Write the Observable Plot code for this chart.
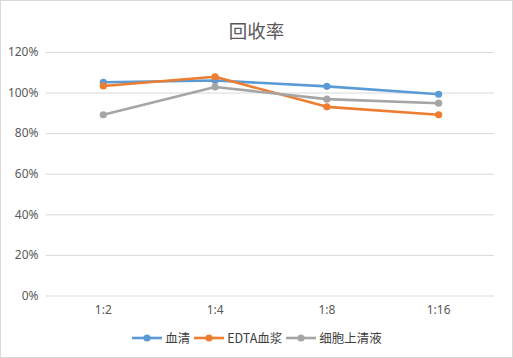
<!DOCTYPE html>
<html><head><meta charset="utf-8">
<script src="https://cdn.jsdelivr.net/npm/d3@7"></script>
<script src="https://cdn.jsdelivr.net/npm/@observablehq/plot@0.6"></script>
<style>
body{margin:0;background:#fff;font-family:"Noto Sans CJK SC","Noto Sans",sans-serif;}
#wrap{position:relative;width:513px;height:358px;box-sizing:border-box;border:1px solid #d9d9d9;overflow:hidden;}
#title{position:absolute;left:0;top:16px;width:511px;text-align:center;font-size:18.5px;color:#595959;line-height:26px;}
#chart{position:absolute;left:-1px;top:34px;}
#legend{position:absolute;left:0;top:327px;width:511px;display:flex;justify-content:center;gap:3px;font-size:12.5px;color:#404040;}
.item{display:flex;align-items:center;gap:2px;}
</style></head>
<body>
<div id="wrap">
<div id="title">回收率</div>
<div id="chart"></div>
<div id="legend"></div>
</div>
<script>
const categories = ["1:2","1:4","1:8","1:16"];
const seriesNames = ["血清","EDTA血浆","细胞上清液"];
const serum = [1.053, 1.062, 1.033, 0.994];
const edta = [1.035, 1.080, 0.932, 0.893];
const supernatant = [0.893, 1.030, 0.970, 0.950];
const yTicks = [0,0.2,0.4,0.6,0.8,1.0,1.2];
const colors = ["#5B9BD5","#ED7D31","#A5A5A5"];

const allSeries = [serum, edta, supernatant];
const data = [];
allSeries.forEach((vals,si)=>vals.forEach((v,i)=>data.push({cat:categories[i],value:v,series:seriesNames[si]})));

const chart = Plot.plot({
  width: 513, height: 286,
  marginLeft: 46, marginRight: 18, marginTop: 17, marginBottom: 25,
  style:{fontFamily:'"Noto Sans","Noto Sans CJK SC",sans-serif',fontSize:"12px",color:"#595959",background:"transparent"},
  x:{type:"point",domain:categories,padding:0.5,label:null},
  y:{domain:[0,1.2],label:null},
  color:{domain:seriesNames,range:colors},
  marks:[
    Plot.ruleY(yTicks,{stroke:"#d9d9d9",strokeWidth:1}),
    Plot.axisY({ticks:yTicks,tickFormat:d=>Math.round(d*100)+"%",tickSize:0,tickPadding:8,label:null}),
    Plot.axisX({tickSize:0,tickPadding:10,label:null}),
    Plot.line(data,{x:"cat",y:"value",stroke:"series",strokeWidth:2.6,curve:"linear"}),
    Plot.dot(data,{x:"cat",y:"value",fill:"series",r:3.6})
  ]
});
document.getElementById("chart").appendChild(chart);

const legend = document.getElementById("legend");
seriesNames.forEach((n,i)=>{
  const it = document.createElement("div"); it.className="item";
  it.innerHTML = `<svg width="32" height="10"><line x1="1" x2="31" y1="5" y2="5" stroke="${colors[i]}" stroke-width="2.6"/><circle cx="16" cy="5" r="3.6" fill="${colors[i]}"/></svg><span>${n}</span>`;
  legend.appendChild(it);
});
</script>
</body></html>
